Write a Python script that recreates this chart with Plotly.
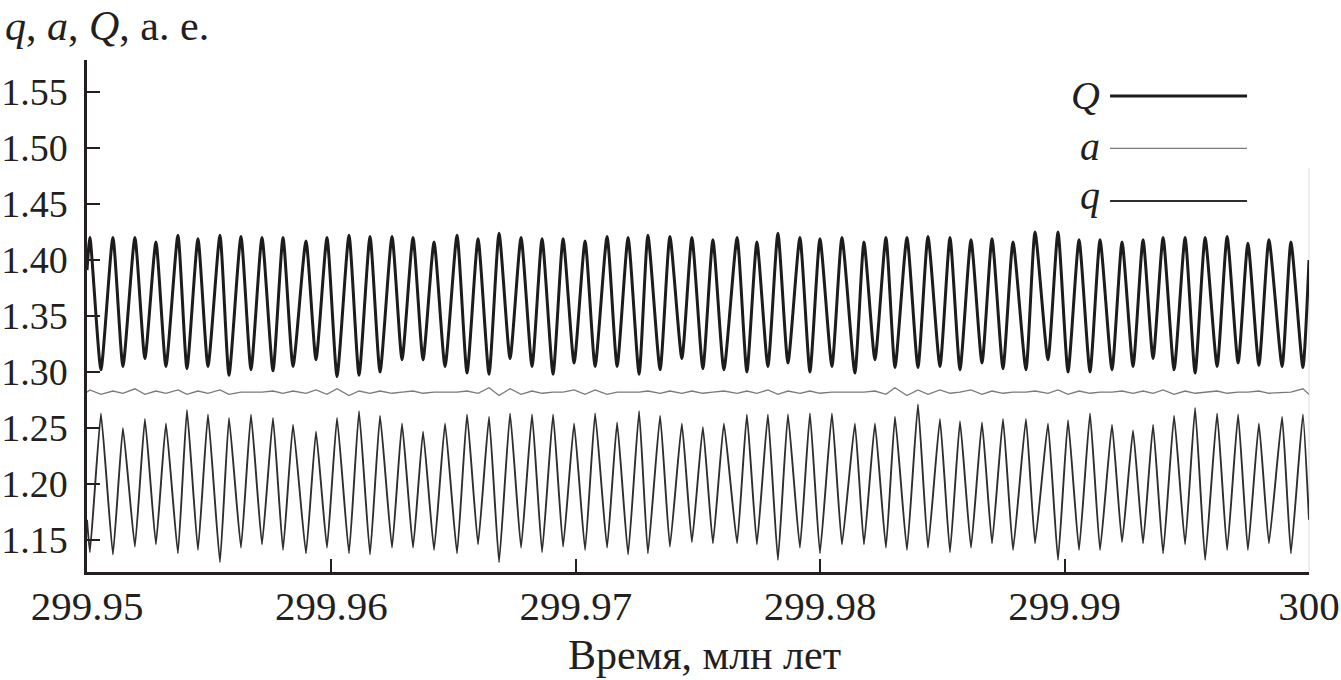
import plotly.graph_objects as go

# Time (Myr) of successive extrema of Q (peak/trough alternating), plus end points
t = [299.95000, 299.95012, 299.95057, 299.95106, 299.95147, 299.95196, 299.95237, 299.95282, 299.95323, 299.95372,
     299.95409, 299.95454, 299.95495, 299.95544, 299.95581, 299.95630, 299.95671, 299.95716, 299.95761, 299.95802,
     299.95843, 299.95896, 299.95937, 299.95982, 299.96023, 299.96072, 299.96113, 299.96158, 299.96199, 299.96248,
     299.96289, 299.96334, 299.96375, 299.96420, 299.96465, 299.96514, 299.96555, 299.96600, 299.96645, 299.96686,
     299.96731, 299.96776, 299.96821, 299.96862, 299.96907, 299.96948, 299.96993, 299.97038, 299.97079, 299.97128,
     299.97169, 299.97214, 299.97259, 299.97295, 299.97345, 299.97385, 299.97434, 299.97475, 299.97520, 299.97561,
     299.97606, 299.97660, 299.97700, 299.97741, 299.97786, 299.97827, 299.97868, 299.97917, 299.97958, 299.97999,
     299.98048, 299.98089, 299.98142, 299.98179, 299.98224, 299.98269, 299.98306, 299.98355, 299.98400, 299.98441,
     299.98490, 299.98531, 299.98572, 299.98617, 299.98662, 299.98703, 299.98748, 299.98789, 299.98842, 299.98879,
     299.98932, 299.98973, 299.99014, 299.99059, 299.99104, 299.99145, 299.99194, 299.99235, 299.99280, 299.99321,
     299.99362, 299.99403, 299.99448, 299.99493, 299.99534, 299.99575, 299.99624, 299.99665, 299.99710, 299.99750,
     299.99795, 299.99836, 299.99890, 299.99926, 299.99975, 300.00000]

Q = [1.391, 1.420, 1.302, 1.420, 1.305, 1.420, 1.312, 1.416, 1.305, 1.422,
     1.303, 1.419, 1.305, 1.422, 1.297, 1.421, 1.302, 1.420, 1.301, 1.420,
     1.305, 1.417, 1.311, 1.420, 1.296, 1.422, 1.297, 1.421, 1.300, 1.421,
     1.311, 1.420, 1.311, 1.416, 1.305, 1.422, 1.299, 1.419, 1.298, 1.424,
     1.312, 1.420, 1.305, 1.419, 1.298, 1.419, 1.308, 1.417, 1.305, 1.421,
     1.305, 1.420, 1.298, 1.422, 1.302, 1.421, 1.312, 1.420, 1.303, 1.418,
     1.302, 1.420, 1.300, 1.416, 1.305, 1.424, 1.308, 1.420, 1.300, 1.419,
     1.305, 1.420, 1.299, 1.416, 1.311, 1.420, 1.304, 1.420, 1.304, 1.421,
     1.305, 1.420, 1.302, 1.418, 1.308, 1.419, 1.303, 1.416, 1.302, 1.425,
     1.311, 1.425, 1.300, 1.418, 1.300, 1.418, 1.302, 1.416, 1.305, 1.418,
     1.312, 1.420, 1.302, 1.420, 1.299, 1.420, 1.305, 1.421, 1.308, 1.415,
     1.306, 1.418, 1.305, 1.416, 1.304, 1.400]

q = [1.168, 1.139, 1.263, 1.137, 1.250, 1.144, 1.258, 1.146, 1.254, 1.138,
     1.266, 1.141, 1.262, 1.130, 1.259, 1.143, 1.262, 1.146, 1.259, 1.141,
     1.253, 1.138, 1.247, 1.143, 1.259, 1.138, 1.265, 1.137, 1.261, 1.143,
     1.254, 1.143, 1.247, 1.141, 1.254, 1.138, 1.262, 1.146, 1.260, 1.130,
     1.263, 1.143, 1.262, 1.139, 1.262, 1.144, 1.254, 1.141, 1.263, 1.143,
     1.255, 1.137, 1.265, 1.138, 1.261, 1.144, 1.254, 1.148, 1.251, 1.147,
     1.254, 1.147, 1.262, 1.146, 1.262, 1.132, 1.262, 1.143, 1.263, 1.138,
     1.263, 1.146, 1.254, 1.146, 1.254, 1.143, 1.260, 1.141, 1.271, 1.143,
     1.258, 1.139, 1.256, 1.143, 1.255, 1.147, 1.258, 1.141, 1.258, 1.147,
     1.254, 1.132, 1.257, 1.141, 1.263, 1.141, 1.253, 1.148, 1.248, 1.147,
     1.253, 1.138, 1.261, 1.146, 1.268, 1.132, 1.263, 1.141, 1.262, 1.141,
     1.254, 1.147, 1.260, 1.138, 1.262, 1.168]

a = [1.282, 1.284, 1.280, 1.283, 1.281, 1.285, 1.280, 1.283, 1.281, 1.284,
     1.280, 1.283, 1.281, 1.284, 1.280, 1.282, 1.282, 1.282, 1.283, 1.281,
     1.283, 1.281, 1.284, 1.280, 1.285, 1.279, 1.283, 1.281, 1.283, 1.281,
     1.282, 1.283, 1.281, 1.282, 1.282, 1.282, 1.283, 1.281, 1.286, 1.279,
     1.285, 1.280, 1.283, 1.281, 1.282, 1.282, 1.284, 1.280, 1.284, 1.280,
     1.282, 1.282, 1.282, 1.283, 1.281, 1.283, 1.281, 1.283, 1.281, 1.282,
     1.283, 1.281, 1.283, 1.281, 1.284, 1.280, 1.283, 1.281, 1.283, 1.281,
     1.282, 1.282, 1.282, 1.282, 1.283, 1.280, 1.286, 1.279, 1.284, 1.280,
     1.284, 1.281, 1.282, 1.284, 1.280, 1.283, 1.281, 1.282, 1.282, 1.283,
     1.281, 1.284, 1.280, 1.283, 1.281, 1.282, 1.282, 1.283, 1.281, 1.283,
     1.281, 1.284, 1.280, 1.283, 1.281, 1.282, 1.283, 1.281, 1.282, 1.282,
     1.283, 1.281, 1.282, 1.282, 1.285, 1.280]

x_ticks = [299.95, 299.96, 299.97, 299.98, 299.99, 300.0]
x_ticktext = ["299.95", "299.96", "299.97", "299.98", "299.99", "300"]
y_ticks = [1.15, 1.20, 1.25, 1.30, 1.35, 1.40, 1.45, 1.50, 1.55]
y_ticktext = ["1.15", "1.20", "1.25", "1.30", "1.35", "1.40", "1.45", "1.50", "1.55"]

series_names = ["Q", "a", "q"]
series_colors = {"Q": "#1c1c1c", "a": "#7a7a7a", "q": "#2e2e2e"}
series_widths = {"Q": 3.0, "a": 1.3, "q": 1.9}
series_smooth = {"Q": 0.55, "a": 0.0, "q": 0.35}

FONT = "Liberation Serif"
INK = "#231f20"

fig = go.Figure()
for name, vals in (("q", q), ("a", a), ("Q", Q)):
    sm = series_smooth[name]
    line = dict(color=series_colors[name], width=series_widths[name])
    if sm > 0:
        line.update(shape="spline", smoothing=sm)
    fig.add_trace(go.Scatter(x=t, y=vals, mode="lines", name=name, line=line,
                             showlegend=False, hoverinfo="skip"))

fig.update_layout(
    width=1341, height=680,
    margin=dict(l=87, r=32, t=60, b=108, autoexpand=False),
    paper_bgcolor="white", plot_bgcolor="white",
    font=dict(family=FONT, color=INK),
    showlegend=False,
)
fig.update_xaxes(
    range=[299.95, 300.0], tickmode="array", tickvals=x_ticks, ticktext=x_ticktext,
    ticks="inside", ticklen=13, tickwidth=2, tickcolor=INK,
    showline=True, linewidth=2.5, linecolor=INK, mirror=False,
    showgrid=False, zeroline=False, automargin=False,
    tickfont=dict(family=FONT, size=41, color=INK), ticklabelstandoff=-4,
)
fig.update_yaxes(
    range=[1.1214, 1.5786], tickmode="array", tickvals=y_ticks, ticktext=y_ticktext,
    ticks="inside", ticklen=13, tickwidth=2, tickcolor=INK,
    showline=True, linewidth=2.5, linecolor=INK, mirror=False,
    showgrid=False, zeroline=False, automargin=False,
    tickfont=dict(family=FONT, size=38, color=INK), ticklabelstandoff=9,
)

# faint right-hand frame remnant seen in the original
fig.add_shape(type="line", xref="paper", yref="paper", x0=1.0, x1=1.0, y0=0.0, y1=0.789,
              line=dict(color="#dcdcdc", width=1), layer="below")

# axis titles
fig.add_annotation(text="Время, млн лет", xref="paper", yref="paper", x=0.505, y=-0.163,
                   xanchor="center", yanchor="middle", showarrow=False,
                   font=dict(family=FONT, size=42, color=INK))
fig.add_annotation(text="<i>q</i>, <i>a</i>, <i>Q</i>, а. е.", xref="paper", yref="paper",
                   x=-0.069, y=1.066, xanchor="left", yanchor="middle", showarrow=False,
                   font=dict(family=FONT, size=42, color=INK))

# legend (labels on the left, line samples on the right)
legend_y = {"Q": 0.9297, "a": 0.8275, "q": 0.7246}
legend_text_dy = {"Q": 0.0, "a": 0.004, "q": 0.010}
for name in series_names:
    fig.add_annotation(text=f"<i>{name}</i>", xref="paper", yref="paper",
                       x=0.8306, y=legend_y[name] + legend_text_dy[name],
                       xanchor="right", yanchor="middle", showarrow=False,
                       font=dict(family=FONT, size=40, color=INK))
    fig.add_shape(type="line", xref="paper", yref="paper",
                  x0=0.8372, x1=0.9493, y0=legend_y[name], y1=legend_y[name],
                  line=dict(color=series_colors[name], width=series_widths[name]))

# remove the browser's default 8px body margin so the page matches the figure size
fig.write_html("out.html", config={"displayModeBar": False},
               post_script="document.body.style.margin='0';document.body.style.overflow='hidden';")
